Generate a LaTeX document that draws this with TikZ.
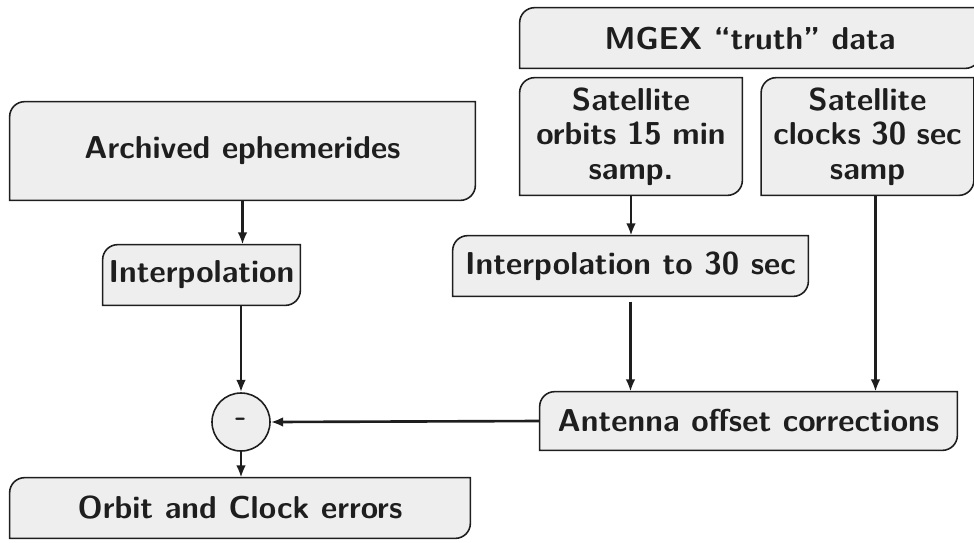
\documentclass[tikz,border=0pt]{standalone}
\usetikzlibrary{arrows.meta,backgrounds}
\definecolor{cardfill}{HTML}{EEEEEE}
\definecolor{cardtext}{HTML}{1E1E1E}
\def\cardr{0.3cm}
\tikzset{
  card/.style={inner sep=2pt, align=center, text=cardtext,
    font=\fontsize{18}{19.5}\selectfont\sffamily\bfseries},
  cardline/.style={draw=cardtext, line width=0.9pt, fill=cardfill},
  flow/.style={draw=cardtext, line width=1.5pt, -{Latex[length=7pt,width=5.5pt]}}
}
% outline with rounded top left and bottom right corners
\newcommand{\cardoutline}[1]{%
  \draw[cardline] (#1.south west) -- ([yshift=-\cardr]#1.north west)
    arc[start angle=180,end angle=90,radius=\cardr] -- (#1.north east)
    -- ([yshift=\cardr]#1.south east)
    arc[start angle=0,end angle=-90,radius=\cardr] -- cycle;}
\begin{document}
\begin{tikzpicture}
	\useasboundingbox (0,0) rectangle (19.48,-10.84);
	
	\node[card, minimum width=9.2cm, minimum height=1.2cm] (mgex) at (15.0,-0.76)
	{MGEX ``truth'' data};
	\node[card, minimum width=4.44cm, minimum height=2.34cm, text width=4.3cm] (orbits) at (12.62,-2.73)
	{Satellite\\orbits 15 min\\samp.};
	\node[card, minimum width=4.18cm, minimum height=2.34cm, text width=4.1cm] (clocks) at (17.35,-2.73)
	{Satellite\\clocks 30 sec\\samp};
	
	\node[card, minimum width=9.3cm, minimum height=1.96cm] (arch) at (4.85,-3.02)
	{Archived ephemerides};
	\node[card, minimum width=3.94cm, minimum height=1.2cm] (interp) at (4.03,-5.5)
	{Interpolation};
	\node[card, minimum width=7.1cm, minimum height=1.2cm] (interpthirty) at (12.61,-5.32)
	{Interpolation to 30 sec};
	
	\node[card, circle, draw=cardtext, line width=0.9pt, fill=cardfill, minimum size=1.16cm, inner sep=0pt] (diff) at (4.82,-8.44) {-};
	\node[card, minimum width=8.34cm, minimum height=1.16cm] (ant) at (14.97,-8.42)
	{Antenna offset corrections};
	\node[card, minimum width=9.2cm, minimum height=1.2cm] (errors) at (4.8,-10.16)
	{Orbit and Clock errors};
	
	\begin{scope}[on background layer]
	\foreach \n in {mgex,orbits,clocks,arch,interp,interpthirty,ant,errors}
	{\cardoutline{\n}}
	\end{scope}
	
	\draw[flow] (arch.south) -- (arch.south |- interp.north);
	\draw[flow] (diff.north |- interp.south) -- (diff.north);
	\draw[flow] (orbits.south) -- (orbits.south |- interpthirty.north);
	\draw[flow, shorten <=3pt] (interpthirty.south) -- (interpthirty.south |- ant.north);
	\draw[flow] ([xshift=0.16cm]clocks.south) -- ([xshift=0.16cm]clocks.south |- ant.north);
	\draw[flow] (ant.west) -- (diff.east);
	\draw[flow] (diff.south) -- (errors.north -| diff.south);
\end{tikzpicture}
\end{document}
